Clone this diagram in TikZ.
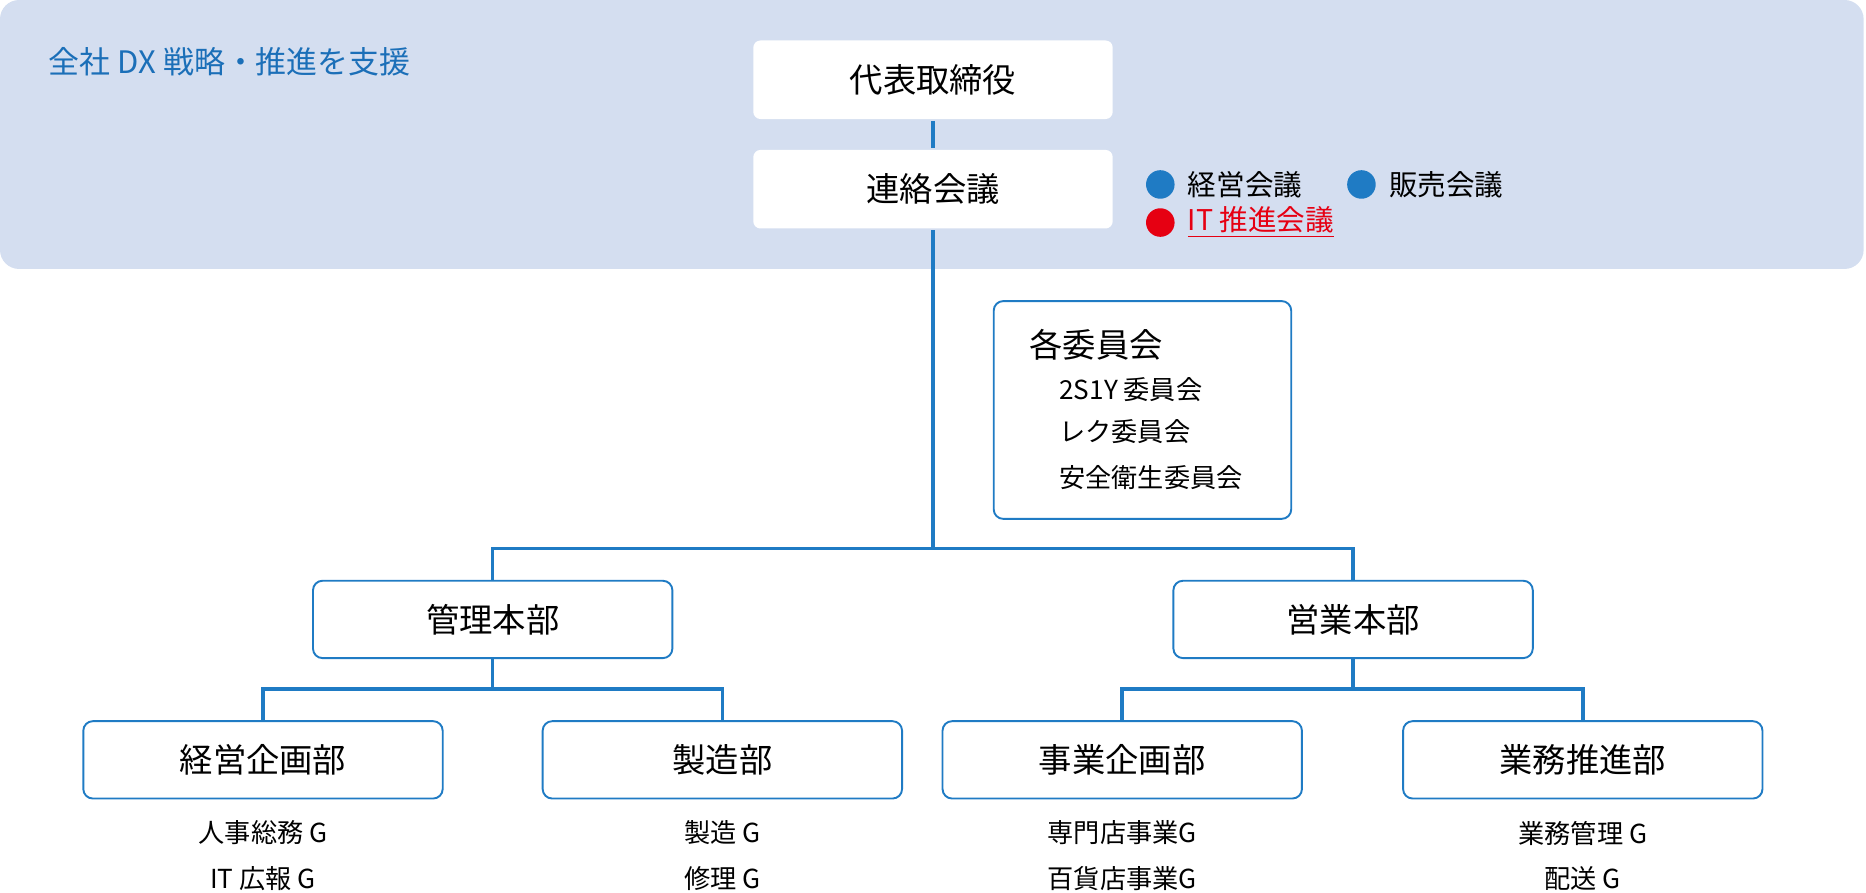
\documentclass[tikz,border=0pt]{standalone}
\usepackage{fontspec}
\setmainfont{Noto Sans CJK JP}
\usetikzlibrary{positioning}
\definecolor{bandblue}{HTML}{D4DEF0}
\definecolor{lineblue}{HTML}{1F7BC4}
\definecolor{titleblue}{HTML}{1B6FB8}
\definecolor{dotred}{HTML}{E60012}

\begin{document}
\begin{tikzpicture}[x=0.5pt,y=-0.5pt,
                    line width=1.5pt,draw=lineblue]
  \tikzstyle{topbox}=[fill=white,draw=none,rounded corners=3pt,minimum width=151pt,minimum height=33pt,font=\fontsize{14}{16}\selectfont]
  \tikzstyle{orgbox}=[fill=white,draw=lineblue,line width=0.8pt,rounded corners=4pt,minimum width=151pt,minimum height=32.5pt,font=\fontsize{14}{16}\selectfont]
  \tikzstyle{subtext}=[font=\fontsize{11}{13}\selectfont]
  \tikzstyle{dot}=[circle,inner sep=0pt,minimum size=12pt]

  \useasboundingbox (0,0) rectangle (1568,750);
  \fill[bandblue,rounded corners=8pt] (0,0) rectangle (1566,226);
  \node[anchor=west,text=titleblue,font=\fontsize{13}{15}\selectfont] (title) at (33,52) {全社 DX 戦略・推進を支援};

  \node[topbox] (ceo)   at (784,67)  {代表取締役};
  \node[topbox] (liaison) at (784,159) {連絡会議};

  \node[dot,fill=lineblue] (d1) at (975,155) {};
  \node[anchor=west,font=\fontsize{12}{14}\selectfont] (m1) at (990,155) {経営会議};
  \node[dot,fill=lineblue] (d2) at (1144,155) {};
  \node[anchor=west,font=\fontsize{12}{14}\selectfont] (m2) at (1159,155) {販売会議};
  \node[dot,fill=dotred] (d3) at (975,187) {};
  \node[anchor=west,text=dotred,font=\fontsize{12}{14}\selectfont] (m3) at (990,187) {\underline{IT 推進会議}};

  \node[orgbox,minimum width=125pt,minimum height=91.5pt] (cmte) at (960,344.5) {};
  \node[anchor=west,font=\fontsize{14}{16}\selectfont] (cmtetitle) at (857,290) {各委員会};
  \node[anchor=west,subtext] (c1) at (882,327) {2S1Y 委員会};
  \node[anchor=west,subtext] (c2) at (882,363) {レク委員会};
  \node[anchor=west,subtext] (c3) at (882,401) {安全衛生委員会};

  \node[orgbox] (admin) at (414,520.5)  {管理本部};
  \node[orgbox] (sales) at (1137,520.5) {営業本部};

  \node[orgbox] (plan)  at (221,638.5)  {経営企画部};
  \node[orgbox] (mfg)   at (607,638.5)  {製造部};
  \node[orgbox] (biz)   at (943,638.5)  {事業企画部};
  \node[orgbox] (ops)   at (1330,638.5) {業務推進部};

  \node[subtext] (g1) at (221,700) {人事総務 G};
  \node[subtext] (g2) at (221,738) {IT 広報 G};
  \node[subtext] (g3) at (607,700) {製造 G};
  \node[subtext] (g4) at (607,738) {修理 G};
  \node[subtext] (g5) at (943,700) {専門店事業G};
  \node[subtext] (g6) at (943,738) {百貨店事業G};
  \node[subtext] (g7) at (1330,700) {業務管理 G};
  \node[subtext] (g8) at (1330,738) {配送 G};

  \coordinate (hub) at (784,461);
  \draw (ceo) -- (liaison);
  \draw (liaison) -- (hub);
  \draw (admin.north) |- (hub) -| (sales.north);
  \draw (admin.south) -- ++(0,25) -| (plan.north);
  \draw (admin.south) -- ++(0,25) -| (mfg.north);
  \draw (sales.south) -- ++(0,25) -| (biz.north);
  \draw (sales.south) -- ++(0,25) -| (ops.north);
\end{tikzpicture}
\end{document}
